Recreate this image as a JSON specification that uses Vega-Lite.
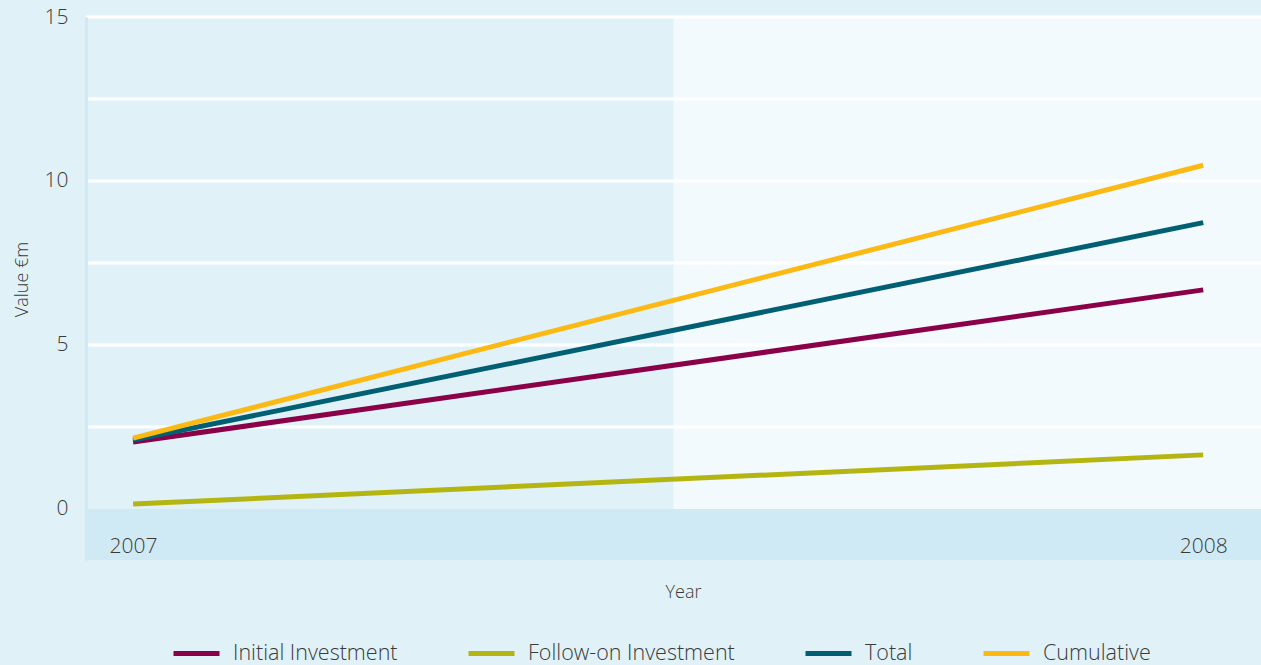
{
  "$schema": "https://vega.github.io/schema/vega-lite/v6.json",
  "autosize": {"type": "none"},
  "width": 1175,
  "height": 543,
  "padding": {"left": 86, "top": 17, "right": 0, "bottom": 105},
  "background": "#e0f2f7",
  "config": {
    "view": {"stroke": null},
    "font": "Open Sans",
    "axis": {"labelFont": "Open Sans", "titleFont": "Open Sans", "labelFontWeight": 300, "titleFontWeight": 300, "labelColor": "#3a3a3a", "titleColor": "#3a3a3a"},
    "legend": {"labelFont": "Open Sans", "labelFontWeight": 300, "labelColor": "#3a3a3a"}
  },
  "datasets": {
    "shade": [{"x1": 2007.505, "x2": 2008.054, "y1": 0, "y2": 15}],
    "band": [{"x1": 2006.956, "x2": 2008.054, "y1": -1.555, "y2": 0}],
    "grid": [{"v": 2.5}, {"v": 5}, {"v": 7.5}, {"v": 10}, {"v": 12.5}, {"v": 15}],
    "series": [
      {"year": 2007, "series": "Initial Investment", "value": 2.04},
      {"year": 2008, "series": "Initial Investment", "value": 6.68},
      {"year": 2007, "series": "Follow-on Investment", "value": 0.15},
      {"year": 2008, "series": "Follow-on Investment", "value": 1.65},
      {"year": 2007, "series": "Total", "value": 2.1},
      {"year": 2008, "series": "Total", "value": 8.73},
      {"year": 2007, "series": "Cumulative", "value": 2.16},
      {"year": 2008, "series": "Cumulative", "value": 10.48}
    ]
  },
  "layer": [
    {
      "data": {"name": "shade"},
      "mark": {"type": "rect", "fill": "#f2fafd"},
      "encoding": {
        "x": {"field": "x1", "type": "quantitative", "scale": {"domain": [2006.956, 2008.054], "nice": false, "zero": false}},
        "x2": {"field": "x2"},
        "y": {"field": "y1", "type": "quantitative", "scale": {"domain": [-1.555, 15], "nice": false, "zero": false}},
        "y2": {"field": "y2"}
      }
    },
    {
      "data": {"name": "band"},
      "mark": {"type": "rect", "fill": "#cfeaf5"},
      "encoding": {
        "x": {"field": "x1", "type": "quantitative", "scale": {"domain": [2006.956, 2008.054], "nice": false, "zero": false}},
        "x2": {"field": "x2"},
        "y": {"field": "y1", "type": "quantitative", "scale": {"domain": [-1.555, 15], "nice": false, "zero": false}},
        "y2": {"field": "y2"}
      }
    },
    {
      "data": {"name": "grid"},
      "mark": {"type": "rule", "color": "#ffffff", "strokeWidth": 3},
      "encoding": {
        "y": {"field": "v", "type": "quantitative", "scale": {"domain": [-1.555, 15], "nice": false, "zero": false}}
      }
    },
    {
      "data": {"name": "series"},
      "mark": {"type": "line", "strokeWidth": 5, "strokeCap": "butt"},
      "encoding": {
        "x": {
          "field": "year", "type": "quantitative",
          "scale": {"domain": [2006.956, 2008.054], "nice": false, "zero": false},
          "axis": {"title": "Year", "values": [2007, 2008], "format": "d", "grid": false, "domain": false, "ticks": false, "tickSize": 0, "zindex": 1, "labelFontSize": 21, "labelBaseline": "middle", "labelPadding": -14, "labelFlush": false, "labelOverlap": false, "titleFontSize": 18, "titleY": 32, "titleX": 597, "titleBaseline": "middle"}
        },
        "y": {
          "field": "value", "type": "quantitative",
          "scale": {"domain": [-1.555, 15], "nice": false, "zero": false},
          "axis": {"title": "Value €m", "values": [0, 5, 10, 15], "grid": false, "domain": true, "domainColor": "#cfeaf5", "domainWidth": 3, "ticks": false, "tickSize": 0, "zindex": 1, "labelFontSize": 21, "labelPadding": 18, "labelBaseline": "middle", "labelFlush": false, "titleFontSize": 18, "titleX": -64, "titleY": 262, "titleBaseline": "middle", "titleAngle": -90}
        },
        "color": {
          "field": "series", "type": "nominal",
          "scale": {"domain": ["Initial Investment", "Follow-on Investment", "Total", "Cumulative"], "range": ["#8a0049", "#b5b511", "#005f73", "#fdb913"]},
          "legend": {"title": null, "orient": "none", "legendX": 85, "legendY": 611, "direction": "horizontal", "columns": 4, "symbolType": "stroke", "symbolSize": 2116, "symbolStrokeWidth": 5, "labelFontSize": 21.5, "labelOffset": 11, "labelLimit": 400, "columnPadding": 60, "symbolOffset": 0}
        }
      }
    }
  ]
}
